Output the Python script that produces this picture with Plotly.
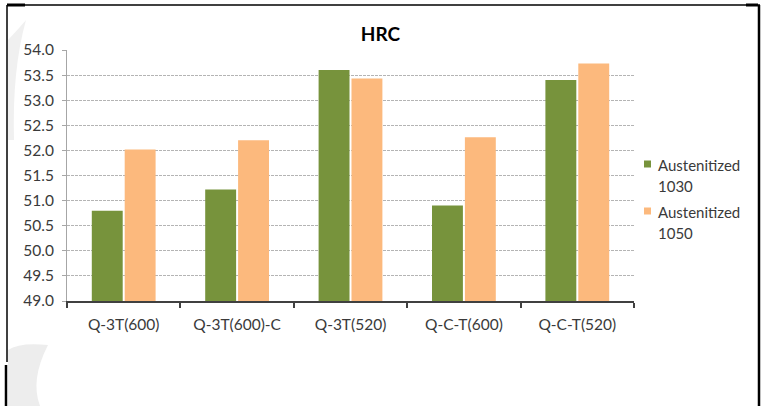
import plotly.graph_objects as go

# Hardness values (HRC) per heat-treatment route
categories = ["Q-3T(600)", "Q-3T(600)-C", "Q-3T(520)", "Q-C-T(600)", "Q-C-T(520)"]
hrc_1030 = [50.8, 51.22, 53.6, 50.9, 53.4]
hrc_1050 = [52.02, 52.2, 53.43, 52.26, 53.73]
series_names = [["Austenitized", "1030"], ["Austenitized", "1050"]]
y_ticks = [49.0, 49.5, 50.0, 50.5, 51.0, 51.5, 52.0, 52.5, 53.0, 53.5, 54.0]

GREEN = "#77933C"
ORANGE = "#FCB97D"
TEXT = "#3a3a3a"
FONT = "Lato"

W, H = 765, 406
L, R, T, B = 67, 634, 50, 301  # plot area in pixels


def px(x):
    return (x - L) / (R - L)


def py(y):
    return (B - y) / (B - T)


fig = go.Figure()
fig.add_trace(go.Bar(x=categories, y=hrc_1030, name=" ".join(series_names[0]),
                     marker=dict(color=GREEN, line=dict(width=0))))
fig.add_trace(go.Bar(x=categories, y=hrc_1050, name=" ".join(series_names[1]),
                     marker=dict(color=ORANGE, line=dict(width=0))))

shapes = []
# faint grey swoosh in the page background
shapes.append(dict(type="path", xref="paper", yref="paper", layer="below",
                   path=(f"M {px(8)},{py(350)} Q {px(20)},{py(342)} {px(48)},{py(345)} "
                         f"Q {px(30)},{py(380)} {px(40)},{py(406)} L {px(8)},{py(406)} Z"),
                   fillcolor="#ededed", line=dict(width=0)))
shapes.append(dict(type="path", xref="paper", yref="paper", layer="below",
                   path=(f"M {px(8)},{py(40)} Q {px(22)},{py(25)} {px(26)},{py(20)} "
                         f"Q {px(12)},{py(70)} {px(14)},{py(140)} L {px(8)},{py(140)} Z"),
                   fillcolor="#f0f0f0", line=dict(width=0)))

# outer frame lines
frame = [
    (7, 5, 760, 5, 1.5), (7, 5, 25, 5, 3), (746, 5, 758, 5, 3),
    (7, 5, 7, 362, 1.5), (6, 365, 6, 406, 2.5), (759, 5, 759, 406, 2.5),
]
for x0, y0, x1, y1, w in frame:
    shapes.append(dict(type="line", xref="paper", yref="paper",
                       x0=px(x0), y0=py(y0), x1=px(x1), y1=py(y1),
                       line=dict(color="black", width=w), layer="above"))

# legend
annotations = []
legend_items = [(GREEN, series_names[0], 164), (ORANGE, series_names[1], 211)]
for color, lines, yc in legend_items:
    shapes.append(dict(type="rect", xref="paper", yref="paper",
                       x0=px(644), x1=px(651), y0=py(yc - 3.5), y1=py(yc + 3.5),
                       fillcolor=color, line=dict(width=0)))
    for i, line in enumerate(lines):
        annotations.append(dict(xref="paper", yref="paper", x=px(656),
                                y=py(yc + 1 + 21 * i), xanchor="left",
                                yanchor="middle", text=line, showarrow=False,
                                font=dict(family=FONT, size=15, color=TEXT)))

fig.update_layout(
    width=W, height=H,
    margin=dict(l=L, r=W - R, t=T, b=H - B, pad=0),
    paper_bgcolor="white", plot_bgcolor="white",
    barmode="group", bargap=0.42, bargroupgap=0.06,
    showlegend=False,
    title=dict(text="<b>HRC</b>", x=px(349), xanchor="center",
               y=1 - 34 / H, yanchor="middle",
               font=dict(family=FONT, size=19, color="black")),
    font=dict(family=FONT, size=15, color=TEXT),
    shapes=shapes, annotations=annotations,
    xaxis=dict(showline=True, linecolor="#404040", linewidth=1.5,
               ticks="outside", tickson="boundaries", ticklen=5,
               tickcolor="#404040", tickwidth=1.5, ticklabelstandoff=9,
               tickfont=dict(family=FONT, size=15.5, color=TEXT),
               showgrid=False),
    yaxis=dict(range=[49, 54], tickvals=y_ticks,
               ticktext=[f"{v:.1f}" for v in y_ticks],
               showline=True, linecolor="#a6a6a6", linewidth=1,
               ticks="outside", ticklen=4, tickcolor="#a6a6a6",
               ticklabelstandoff=5,
               showgrid=True, gridcolor="#b4b4b4", gridwidth=1,
               griddash="3px,1px", zeroline=False,
               tickfont=dict(family=FONT, size=15.5, color=TEXT)),
)

fig.write_html("out.html")
